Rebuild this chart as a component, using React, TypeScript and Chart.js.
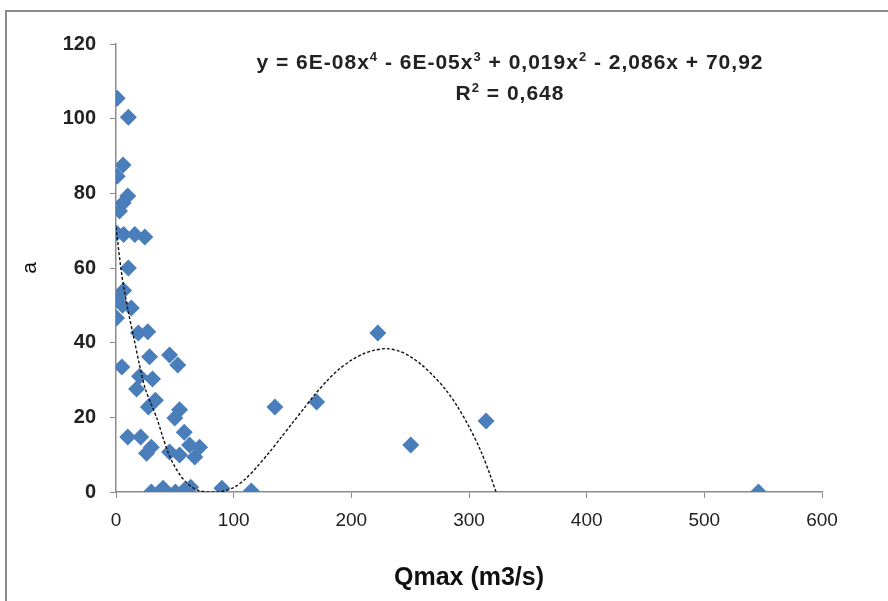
import React, { useEffect, useRef } from 'react';
import { Chart, registerables } from 'chart.js';

Chart.register(...registerables);

// Observed points: Qmax (m3/s) and a
const qmax = [
  1, 10.5, 6, 1, 10, 6, 3, 0.5, 6.5, 16, 24.5, 10.5, 6.5, 1, 5.5, 13, 0.5, 19, 27, 5,
  28.5, 45.5, 52.5, 20, 31, 33.5, 17.5, 54, 50, 27.5, 10, 21, 30, 58, 62.5, 71, 26, 45.5, 54, 67,
  30, 37, 40, 50.5, 58, 63.5, 90, 115, 135, 170.5, 222.5, 250.5, 314.5, 546,
];
const aValues = [
  105.5, 100.4, 87.6, 84.6, 79.3, 77.4, 75.3, 69.4, 69, 69, 68.3, 60, 54, 51.4, 50, 49.3, 46.6, 42.6, 42.9, 33.5,
  36.2, 36.7, 34, 31, 30.3, 24.6, 27.6, 22, 19.8, 22.8, 14.7, 14.7, 12, 16, 12.6, 12, 10.4, 10.7, 9.9, 9.4,
  0, 0, 1, 0, 0.5, 1.3, 1, 0.3, 22.8, 24.1, 42.6, 12.6, 19, 0,
];

// Polynomial trendline
const trendQ = [0, 5, 10, 15, 20, 25, 30, 35, 40, 45, 50, 55, 60, 65, 70, 78, 88, 100, 110, 120, 130, 140, 150, 160, 170, 180, 190, 200, 210, 220, 230, 240, 250, 260, 270, 280, 290, 300, 310, 318, 323];
const trendA = [70.9, 58, 49, 41.5, 34, 27.5, 23.5, 19.5, 14.5, 10, 6.8, 4.3, 2.5, 1.2, 0.4, 0, 0, 1.2, 3.5, 6.8, 10.5, 14.5, 18.5, 22.5, 26.5, 30, 33, 35.3, 37, 38, 38.4, 37.8, 36.3, 34, 31, 27.5, 23, 17.5, 11, 4.5, 0];

const xMin = 0;
const xMax = 600;
const xStep = 100;
const yMin = 0;
const yMax = 120;
const yStep = 20;

const xTitle = 'Qmax (m3/s)';
const yTitle = 'a';

const supStyle: React.CSSProperties = { fontSize: 13 };

const App: React.FC = () => {
  const canvasRef = useRef<HTMLCanvasElement | null>(null);

  useEffect(() => {
    if (!canvasRef.current) return;
    const scatter = qmax.map((x, i) => ({ x, y: aValues[i] }));
    const trend = trendQ.map((x, i) => ({ x, y: trendA[i] }));
    const chart = new Chart(canvasRef.current, {
      type: 'scatter',
      data: {
        datasets: [
          {
            type: 'line',
            data: trend,
            borderColor: '#111111',
            borderWidth: 1.4,
            borderDash: [3, 2],
            pointRadius: 0,
            fill: false,
            tension: 0.3,
            order: 0,
          } as any,
          {
            data: scatter,
            pointStyle: 'rectRot',
            pointRadius: 8.5,
            pointBackgroundColor: '#4a7ebb',
            pointBorderColor: '#4a7ebb',
            pointBorderWidth: 0,
            order: 1,
          },
        ],
      },
      options: {
        responsive: false,
        animation: false,
        layout: { padding: { top: 44, right: 66, left: 0, bottom: 0 } },
        plugins: {
          legend: { display: false },
          tooltip: { enabled: false },
        },
        scales: {
          x: {
            type: 'linear',
            min: xMin,
            max: xMax,
            ticks: {
              stepSize: xStep,
              color: '#222',
              font: { family: 'Liberation Sans', size: 19 },
              padding: 11,
              maxRotation: 0,
            },
            grid: { drawOnChartArea: false, drawTicks: true, tickLength: 6, color: '#8c8c8c' },
            border: { color: '#8c8c8c', width: 1.5 },
            title: {
              display: true,
              text: xTitle,
              color: '#111',
              font: { family: 'Liberation Sans', size: 25, weight: 'bold' },
              padding: { top: 4, bottom: 8 },
            },
            afterFit: (scale: any) => {
              scale.height = 109;
            },
          },
          y: {
            type: 'linear',
            min: yMin,
            max: yMax,
            ticks: {
              stepSize: yStep,
              color: '#222',
              font: { family: 'Liberation Sans', size: 20, weight: 'bold' },
              padding: 14,
            },
            grid: { drawOnChartArea: false, drawTicks: true, tickLength: 6, color: '#8c8c8c' },
            border: { color: '#8c8c8c', width: 1.5 },
            title: {
              display: true,
              text: yTitle,
              color: '#111',
              font: { family: 'Liberation Sans', size: 21 },
              padding: { top: 18 },
            },
            afterFit: (scale: any) => {
              scale.width = 116;
            },
          },
        },
      },
    });
    return () => chart.destroy();
  }, []);

  return (
    <div style={{ position: 'fixed', left: 0, top: 0, width: 888, height: 601, background: '#fff', overflow: 'hidden' }}>
      <div
        style={{
          position: 'absolute',
          left: 5,
          top: 10,
          width: 900,
          height: 620,
          borderTop: '2px solid #8c8c8c',
          borderLeft: '2px solid #8c8c8c',
        }}
      />
      <canvas ref={canvasRef} width={888} height={601} style={{ position: 'absolute', left: 0, top: 0 }} />
      <div
        style={{
          position: 'absolute',
          left: 160,
          width: 700,
          top: 44,
          textAlign: 'center',
          fontFamily: 'Liberation Sans',
          fontSize: 21,
          fontWeight: 'bold',
          letterSpacing: '1px',
          color: '#222',
          lineHeight: '26px',
        }}
      >
        <div>
          y = 6E-08x<sup style={supStyle}>4</sup> - 6E-05x<sup style={supStyle}>3</sup> + 0,019x
          <sup style={supStyle}>2</sup> - 2,086x + 70,92
        </div>
        <div>
          R<sup style={supStyle}>2</sup> = 0,648
        </div>
      </div>
    </div>
  );
};

export default App;
